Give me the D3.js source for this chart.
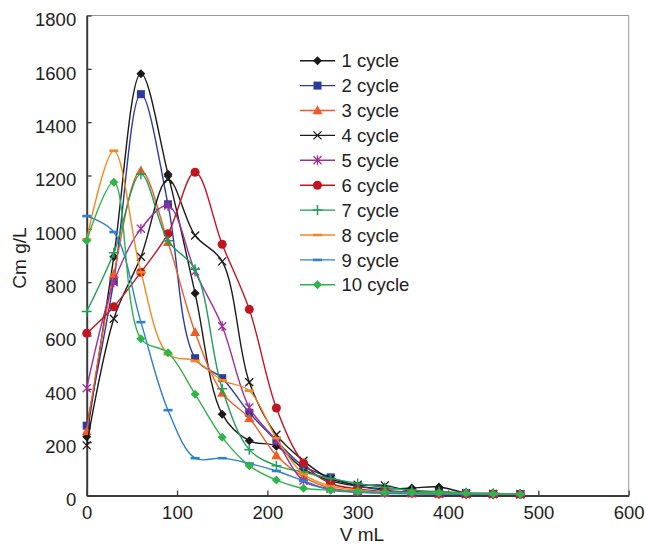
<!DOCTYPE html>
<html><head><meta charset="utf-8">
<script src="https://cdn.jsdelivr.net/npm/d3@7"></script>
<style>
  body { margin: 0; background: #fff; }
  text { font-family: "Liberation Sans", Arial, sans-serif; fill: #222; }
</style>
</head><body>
<svg id="chart" width="646" height="544"></svg>
<script>
// Eluted volume (mL) at which each fraction was sampled
const volumes = [0, 30, 60, 90, 120, 150, 180, 210, 240, 270, 300, 330, 360, 390, 420, 450, 480];

// Concentration (g/L) per fraction, one array per regeneration cycle
const cycle1  = [220, 895, 1582, 1205, 758, 305, 205, 185, 100, 55, 35, 25, 28, 32, 10, 8, 5];
const cycle2  = [262, 805, 1505, 1092, 515, 440, 310, 205, 110, 68, 35, 20, 12, 10, 8, 6, 5];
const cycle3  = [240, 830, 1218, 950, 612, 385, 290, 150, 70, 28, 15, 10, 8, 6, 5, 5, 5];
const cycle4  = [188, 663, 895, 1185, 975, 878, 425, 228, 130, 62, 40, 38, 15, 12, 8, 6, 5];
const cycle5  = [402, 800, 1000, 1087, 840, 635, 330, 205, 55, 25, 15, 10, 8, 6, 5, 5, 5];
const cycle6  = [608, 708, 837, 982, 1212, 942, 698, 328, 122, 45, 25, 15, 10, 8, 6, 5, 5];
const cycle7  = [690, 910, 1205, 955, 848, 400, 172, 112, 88, 64, 45, 30, 20, 15, 10, 8, 6];
const cycle8  = [960, 1293, 837, 530, 505, 432, 393, 215, 80, 35, 20, 12, 10, 8, 6, 5, 5];
const cycle9  = [1048, 988, 650, 320, 140, 140, 120, 92, 55, 20, 12, 8, 6, 5, 5, 5, 5];
const cycle10 = [955, 1175, 588, 535, 380, 218, 112, 58, 27, 20, 16, 12, 10, 10, 8, 6, 5];

const seriesNames = ["1 cycle", "2 cycle", "3 cycle", "4 cycle", "5 cycle",
                     "6 cycle", "7 cycle", "8 cycle", "9 cycle", "10 cycle"];
const seriesValues = [cycle1, cycle2, cycle3, cycle4, cycle5, cycle6, cycle7, cycle8, cycle9, cycle10];
const seriesColors = ["#1a1a1a", "#2b3b9e", "#f05a24", "#1a1a1a", "#9e2f98",
                      "#bf1622", "#1f9e58", "#f7861f", "#2f7fcc", "#2fb34c"];
const seriesMarkers = ["diamond", "square", "triangle", "x", "asterisk",
                       "circle", "plus", "dash", "dash", "diamond"];

const xTicks = [0, 100, 200, 300, 400, 500, 600];
const yTicks = [0, 200, 400, 600, 800, 1000, 1200, 1400, 1600, 1800];

const svg = d3.select("#chart");
const plotLeft = 86.7, plotRight = 628.7, plotTop = 15.5, plotBottom = 495.5;

const x = d3.scaleLinear().domain([0, 600]).range([plotLeft, plotRight]);
const y = d3.scaleLinear().domain([0, 1800]).range([plotBottom, plotTop]);

// Frame: light top/right edges
svg.append("path")
  .attr("d", `M${plotLeft},${plotTop}H${plotRight}V${plotBottom}`)
  .attr("fill", "none").attr("stroke", "#9a9a9a").attr("stroke-width", 1);

// Axes with inward ticks
const gx = svg.append("g").attr("transform", `translate(0,${plotBottom})`)
  .call(d3.axisBottom(x).tickValues(xTicks).tickFormat(d3.format("d"))
    .tickSizeInner(-5).tickSizeOuter(0).tickPadding(10));
const gy = svg.append("g").attr("transform", `translate(${plotLeft},0)`)
  .call(d3.axisLeft(y).tickValues(yTicks).tickFormat(d3.format("d"))
    .tickSizeInner(-5).tickSizeOuter(0).tickPadding(10.5));

[gx, gy].forEach(g => {
  g.select(".domain").attr("stroke", "#3a3a3a").attr("stroke-width", 2);
  g.selectAll(".tick line").attr("stroke", "#3a3a3a").attr("stroke-width", 1.3);
  g.selectAll(".tick text").attr("font-size", 18.5).attr("fill", "#222")
    .attr("font-family", '"Liberation Sans", Arial, sans-serif');
});
gy.selectAll(".tick text").attr("dy", "0.55em");

// Axis titles
svg.append("text").attr("x", 362).attr("y", 541).attr("text-anchor", "middle")
  .attr("font-size", 19).text("V mL");
svg.append("text").attr("transform", "translate(26,258) rotate(-90)")
  .attr("text-anchor", "middle").attr("font-size", 19).text("Cm g/L");

// Marker glyphs
function drawMarker(g, type, color) {
  const r = 4.5;
  switch (type) {
    case "diamond":
      g.append("path").attr("d", `M0,${-r}L${r},0L0,${r}L${-r},0Z`).attr("fill", color);
      break;
    case "square":
      g.append("rect").attr("x", -4).attr("y", -4).attr("width", 8).attr("height", 8).attr("fill", color);
      break;
    case "triangle":
      g.append("path").attr("d", `M0,-5.2L5,3.8L-5,3.8Z`).attr("fill", color);
      break;
    case "circle":
      g.append("circle").attr("r", r).attr("fill", color);
      break;
    case "x":
      g.append("path").attr("d", "M-4,-4L4,4M-4,4L4,-4")
        .attr("stroke", color).attr("stroke-width", 1.3).attr("fill", "none");
      break;
    case "asterisk":
      g.append("path").attr("d", "M-4,-4L4,4M-4,4L4,-4M0,-5V5")
        .attr("stroke", color).attr("stroke-width", 1.3).attr("fill", "none");
      break;
    case "plus":
      g.append("path").attr("d", "M-5,0H5M0,-5V5")
        .attr("stroke", color).attr("stroke-width", 1.5).attr("fill", "none");
      break;
    case "dash":
      g.append("rect").attr("x", -4.5).attr("y", -1.3).attr("width", 9).attr("height", 2.6).attr("fill", color);
      break;
  }
}

const line = d3.line()
  .x((d, i) => x(volumes[i]))
  .y(d => y(d))
  .curve(d3.curveCatmullRom.alpha(0.5));

// Series curves and markers
seriesValues.forEach((vals, si) => {
  const g = svg.append("g");
  g.append("path").datum(vals).attr("d", line)
    .attr("fill", "none").attr("stroke", seriesColors[si]).attr("stroke-width", 1.4);
  vals.forEach((v, i) => {
    const m = g.append("g").attr("transform", `translate(${x(volumes[i])},${y(v)})`);
    drawMarker(m, seriesMarkers[si], seriesColors[si]);
  });
});

// Legend
const legend = svg.append("g");
seriesNames.forEach((name, i) => {
  const ly = 60.7 + i * 24.9;
  legend.append("line").attr("x1", 300).attr("x2", 335).attr("y1", ly).attr("y2", ly)
    .attr("stroke", seriesColors[i]).attr("stroke-width", 1.4);
  const m = legend.append("g").attr("transform", `translate(317.5,${ly})`);
  drawMarker(m, seriesMarkers[i], seriesColors[i]);
  legend.append("text").attr("x", 341.5).attr("y", ly).attr("dy", "0.36em")
    .attr("font-size", 18.5).text(name);
});
</script>
</body></html>
